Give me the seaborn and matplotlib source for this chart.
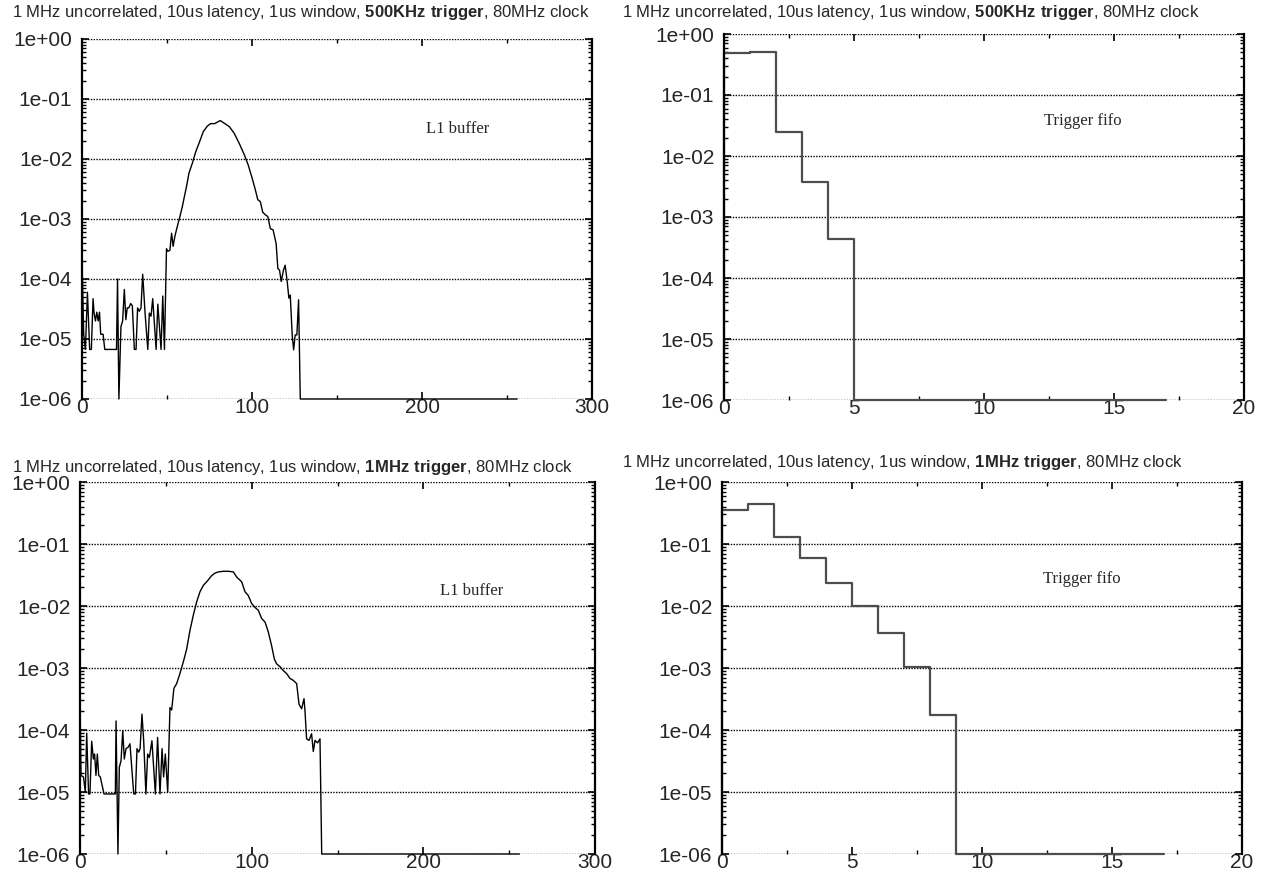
import matplotlib
matplotlib.use('Agg')
import matplotlib.pyplot as plt
import matplotlib.ticker as mticker
import seaborn as sns

# L1 buffer occupancy, 500KHz trigger (zeros drawn at the 1e-06 floor)
l1_500_x = [0, 1.0, 2.0, 3.2, 4.5, 5.5, 6.5, 7.1, 7.9, 8.7, 9.5, 10.3, 11.0, 12.4, 13.4, 20.3, 20.9,
            21.7, 22.9, 23.9, 24.9, 25.8, 26.6, 27.6, 28.6, 29.6, 30.8, 31.8, 32.7, 33.7, 34.7, 35.7,
            37.1, 38.7, 39.6, 40.6, 41.6, 43.6, 44.6, 46.5, 47.5, 48.5, 49.7, 50.5, 51.7, 52.7, 53.6,
            54.6, 56.0, 57.6, 59.0, 60.4, 61.5, 62.9, 64.9, 66.9, 68.8, 71.4, 73.8, 75.7, 78.1, 81.3,
            84.0, 86.6, 89.5, 92.5, 95.5, 97.8, 99.8, 101.8, 103.4, 104.9, 106.3, 107.9, 109.3, 110.8,
            112.4, 114.2, 115.2, 116.2, 117.2, 118.5, 119.5, 120.7, 121.7, 122.5, 123.7, 124.5, 125.4,
            126.4, 127.4, 128.4, 256]
l1_500_y = [2.1e-4, 1.2e-5, 6.7e-6, 6e-5, 6.7e-6, 6.7e-6, 4.7e-5, 2.7e-5, 2e-5, 2.8e-5, 2e-5, 2.8e-5,
            1.2e-5, 1.2e-5, 6.7e-6, 6.7e-6, 1e-4, 1e-6, 1.6e-5, 2e-5, 6.7e-5, 2.1e-5, 3.3e-5, 3.3e-5,
            3.9e-5, 3.6e-5, 6.7e-6, 6.7e-6, 3.3e-5, 2.9e-5, 3.3e-5, 1.2e-4, 2.7e-5, 6.7e-6, 2.7e-5,
            2.4e-5, 4.7e-5, 6.7e-6, 3.8e-5, 6.7e-6, 5.2e-5, 6.7e-6, 3.2e-4, 2.9e-4, 3.0e-4, 5.8e-4,
            3.5e-4, 5.1e-4, 7.4e-4, 1.1e-3, 1.6e-3, 2.5e-3, 3.5e-3, 5.8e-3, 8.5e-3, 0.0132, 0.0182,
            0.0288, 0.0355, 0.0389, 0.0389, 0.0437, 0.0389, 0.0347, 0.0269, 0.0182, 0.0117, 7.9e-3,
            5.1e-3, 3.2e-3, 2.1e-3, 1.95e-3, 1.3e-3, 1.17e-3, 1.1e-3, 6.9e-4, 6.6e-4, 3.9e-4, 1.5e-4,
            1.4e-4, 9.1e-5, 1.4e-4, 1.7e-4, 9.1e-5, 4.8e-5, 5.4e-5, 1.1e-5, 6.6e-6, 1.17e-5, 1.17e-5,
            4.5e-5, 1e-6, 1e-6]

# L1 buffer occupancy, 1MHz trigger
l1_1m_x = [0, 0.6, 2.0, 3.1, 3.9, 5.0, 5.8, 6.8, 7.8, 8.5, 9.3, 10.1, 10.9, 11.8, 14.0, 20.6, 21.0,
           22.1, 22.9, 23.9, 24.9, 25.8, 26.8, 28.1, 29.1, 31.3, 32.3, 33.2, 34.2, 35.0, 36.1, 37.1,
           38.4, 39.4, 40.4, 41.9, 43.9, 45.2, 46.6, 47.8, 48.7, 49.7, 51.1, 52.4, 53.4, 54.7, 56.3,
           58.2, 60.2, 62.1, 64.1, 66.0, 67.9, 69.9, 71.8, 74.4, 76.7, 78.6, 80.6, 83.5, 86.4, 89.3,
           91.2, 94.2, 96.1, 98.0, 100.0, 101.9, 103.9, 105.8, 107.8, 109.7, 111.6, 113.2, 114.5,
           116.5, 118.4, 120.4, 122.3, 124.3, 126.2, 127.6, 129.1, 130.5, 131.1, 132.0, 133.4, 134.9,
           135.9, 136.9, 138.4, 139.8, 140.8, 256]
l1_1m_y = [3e-4, 1.85e-5, 1.75e-5, 1e-5, 8.9e-5, 9.3e-6, 9.3e-6, 6.6e-5, 3.4e-5, 4.1e-5, 1.85e-5,
           4.1e-5, 1.85e-5, 1.75e-5, 9.3e-6, 9.3e-6, 1.4e-4, 1e-6, 2.5e-5, 3.2e-5, 9.8e-5, 3.4e-5,
           5e-5, 5.3e-5, 6e-5, 9.3e-6, 9.3e-6, 5e-5, 4.4e-5, 5e-5, 1.8e-4, 6.7e-5, 9.3e-6, 4.1e-5,
           3.6e-5, 6.7e-5, 9.3e-6, 7.6e-5, 9.3e-6, 5e-5, 1.75e-5, 4.1e-5, 1e-5, 2.3e-4, 2.1e-4,
           4.7e-4, 5.6e-4, 8.1e-4, 1.26e-3, 2.0e-3, 4.1e-3, 7.1e-3, 0.0115, 0.017, 0.0214, 0.0257,
           0.0309, 0.0339, 0.0355, 0.0363, 0.0363, 0.0355, 0.0295, 0.0245, 0.017, 0.0148, 0.011,
           9.5e-3, 8.5e-3, 6.3e-3, 5.5e-3, 3.8e-3, 2.3e-3, 1.4e-3, 1.17e-3, 1.05e-3, 9.1e-4, 8.1e-4,
           6.8e-4, 6.3e-4, 5.6e-4, 2.6e-4, 2.2e-4, 3.2e-4, 1.95e-4, 7.2e-5, 6.8e-5, 8.7e-5, 4.5e-5,
           6.8e-5, 6.2e-5, 7.2e-5, 1e-6, 1e-6]

# Trigger fifo occupancy (bin left edges and values)
fifo_500_x = [0, 0, 1, 2, 3, 4, 5, 17]
fifo_500_y = [1e-6, 0.48, 0.51, 0.0243, 3.7e-3, 4.4e-4, 1e-6, 1e-6]
fifo_1m_x = [0, 0, 1, 2, 3, 4, 5, 6, 7, 8, 9, 17]
fifo_1m_y = [1e-6, 0.358, 0.442, 0.128, 0.0587, 0.0232, 0.0101, 3.67e-3, 1.02e-3, 1.73e-4, 1e-6, 1e-6]

title_500 = r'1 MHz uncorrelated, 10us latency, 1us window, $\mathbf{500KHz\ trigger}$, 80MHz clock'
title_1m = r'1 MHz uncorrelated, 10us latency, 1us window, $\mathbf{1MHz\ trigger}$, 80MHz clock'

sns.set_style('ticks')
plt.rcParams['font.family'] = ['Liberation Sans', 'DejaVu Sans']
plt.rcParams['mathtext.fontset'] = 'custom'
plt.rcParams['mathtext.rm'] = 'Liberation Sans'
plt.rcParams['mathtext.bf'] = 'Liberation Sans:bold'

W, H = 1266, 872
fig = plt.figure(figsize=(W / 100, H / 100), dpi=100)


def px_axes(l, t, r, b):
    return fig.add_axes([l / W, 1 - b / H, (r - l) / W, (b - t) / H])


def style_axes(ax, xmax, xmajor):
    ax.set_yscale('log')
    ax.set_ylim(1e-6, 1)
    ax.set_xlim(0, xmax)
    ax.set_xlabel('')
    ax.set_ylabel('')
    ax.xaxis.set_major_locator(mticker.MultipleLocator(xmajor))
    ax.xaxis.set_minor_locator(mticker.MultipleLocator(xmajor / 2))
    ax.yaxis.set_major_locator(mticker.LogLocator(base=10, numticks=10))
    ax.yaxis.set_minor_locator(mticker.LogLocator(base=10, subs=range(2, 10), numticks=20))
    ax.yaxis.set_minor_formatter(mticker.NullFormatter())
    ax.yaxis.set_major_formatter(mticker.FuncFormatter(lambda v, p: f'{v:.0e}'))
    ax.grid(axis='y', which='major', color='black', linestyle=(0, (1, 1)), linewidth=1.0)
    ax.grid(axis='x', visible=False)
    ax.spines['top'].set_visible(False)
    ax.spines['bottom'].set_visible(False)
    for s in ('left', 'right'):
        ax.spines[s].set_linewidth(1.6)
        ax.spines[s].set_color('black')
    ax.tick_params(axis='both', which='both', direction='in', top=True, right=True,
                   labelsize=15, color='black')
    ax.tick_params(axis='both', which='major', length=5, width=1.2)
    ax.tick_params(axis='both', which='minor', length=3, width=1)
    ax.tick_params(axis='x', which='major', pad=-1)
    ax.tick_params(axis='y', which='major', pad=7)


panels = [
    ((82, 39, 592, 399), l1_500_x, l1_500_y, 300, 100, 'L1 buffer', (0.736, 0.75), 'l1'),
    ((724, 34, 1244, 400), fifo_500_x, fifo_500_y, 20, 5, 'Trigger fifo', (0.69, 0.762), 'fifo'),
    ((80, 482, 595, 854), l1_1m_x, l1_1m_y, 300, 100, 'L1 buffer', (0.76, 0.707), 'l1'),
    ((722, 482, 1242, 854), fifo_1m_x, fifo_1m_y, 20, 5, 'Trigger fifo', (0.692, 0.739), 'fifo'),
]

for box, xs, ys, xmax, xmajor, label, lpos, kind in panels:
    ax = px_axes(*box)
    if kind == 'l1':
        sns.lineplot(x=xs, y=ys, ax=ax, color='black', linewidth=1.0,
                     estimator=None, sort=False, clip_on=False)
    else:
        sns.lineplot(x=xs, y=ys, ax=ax, color='#4d4d4d', linewidth=1.6,
                     estimator=None, sort=False, drawstyle='steps-post', clip_on=False)
    style_axes(ax, xmax, xmajor)
    ax.text(lpos[0], lpos[1], label, transform=ax.transAxes, ha='center', va='center',
            fontsize=12, family=['Liberation Serif', 'DejaVu Serif'])

fig.text(12 / W, 1 - 12 / H, title_500, ha='left', va='center', fontsize=12)
fig.text(622 / W, 1 - 12 / H, title_500, ha='left', va='center', fontsize=12)
fig.text(12 / W, 1 - 467 / H, title_1m, ha='left', va='center', fontsize=12)
fig.text(622 / W, 1 - 462 / H, title_1m, ha='left', va='center', fontsize=12)

fig.savefig('out.png', dpi=100)
